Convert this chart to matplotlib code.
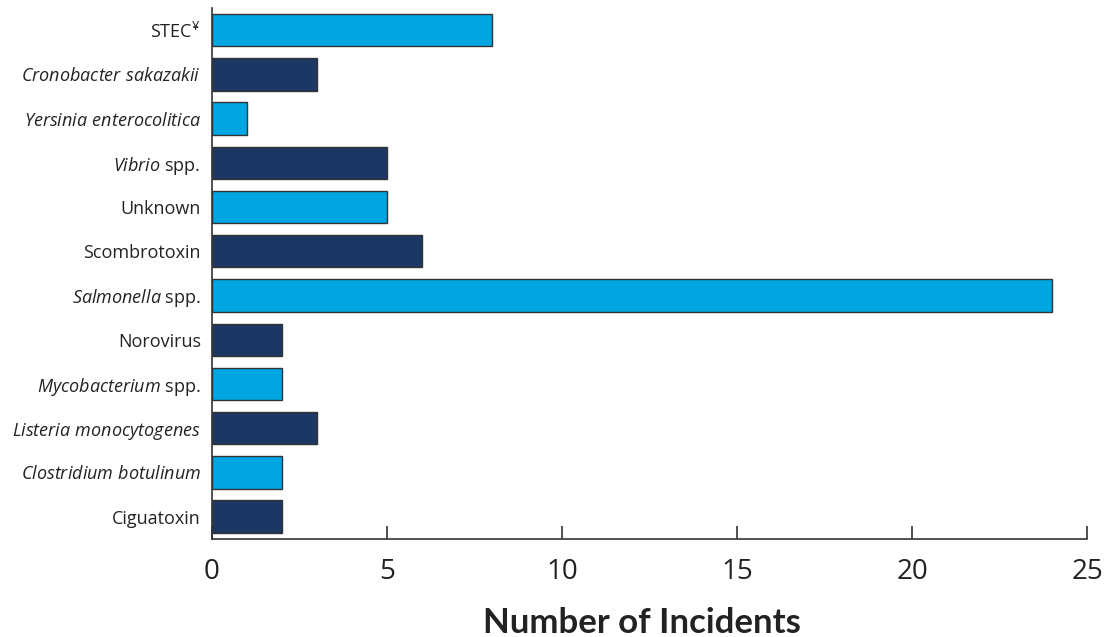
import matplotlib.pyplot as plt

plt.rcParams['font.family'] = ['Open Sans', 'DejaVu Sans']
plt.rcParams['mathtext.fontset'] = 'custom'
plt.rcParams['mathtext.rm'] = 'Open Sans'
plt.rcParams['mathtext.it'] = 'Open Sans:italic'
plt.rcParams['mathtext.bf'] = 'Open Sans:bold'

# categories listed bottom to top
categories = [
    "Ciguatoxin",
    r"$\mathit{Clostridium\ botulinum}$",
    r"$\mathit{Listeria\ monocytogenes}$",
    r"$\mathit{Mycobacterium}$ spp.",
    "Norovirus",
    r"$\mathit{Salmonella}$ spp.",
    "Scombrotoxin",
    "Unknown",
    r"$\mathit{Vibrio}$ spp.",
    r"$\mathit{Yersinia\ enterocolitica}$",
    r"$\mathit{Cronobacter\ sakazakii}$",
    "STEC$^{¥}$",
]
incidents = [2, 2, 3, 2, 2, 24, 6, 5, 5, 1, 3, 8]
x_ticks = [0, 5, 10, 15, 20, 25]

NAVY = "#1b3764"
LIGHT = "#00a6e2"
colors = [NAVY if i % 2 == 0 else LIGHT for i in range(len(categories))]

fig = plt.figure(figsize=(11.07, 6.37), dpi=100)
ax = fig.add_axes([0.1915, 0.1543, 0.7905, 0.8331])

ypos = list(range(len(categories)))
ax.barh(ypos, incidents, height=0.73, color=colors, edgecolor="#333333", linewidth=1.0)

ax.set_xlim(0, 25)
ax.set_ylim(-0.5, 11.5)
ax.set_xticks(x_ticks)
ax.set_xticklabels([str(t) for t in x_ticks], fontsize=20, color="#222222")
ax.set_yticks(ypos)
ax.set_yticklabels(categories, fontsize=13, color="#222222")

ax.tick_params(axis="x", direction="in", length=9.5, width=1.2, color="#333333", pad=14)
ax.tick_params(axis="y", length=0, pad=8)

for side in ["top", "right"]:
    ax.spines[side].set_visible(False)
for side in ["left", "bottom"]:
    ax.spines[side].set_color("#333333")
    ax.spines[side].set_linewidth(1.2)

# x axis title, placed on the figure so it sits near the bottom edge
fig.text(0.58, 0.006, "Number of Incidents", fontsize=25, fontweight="bold",
         family=["Lato", "DejaVu Sans"], color="#222222", ha="center", va="baseline")

fig.savefig("out.png", dpi=100)
